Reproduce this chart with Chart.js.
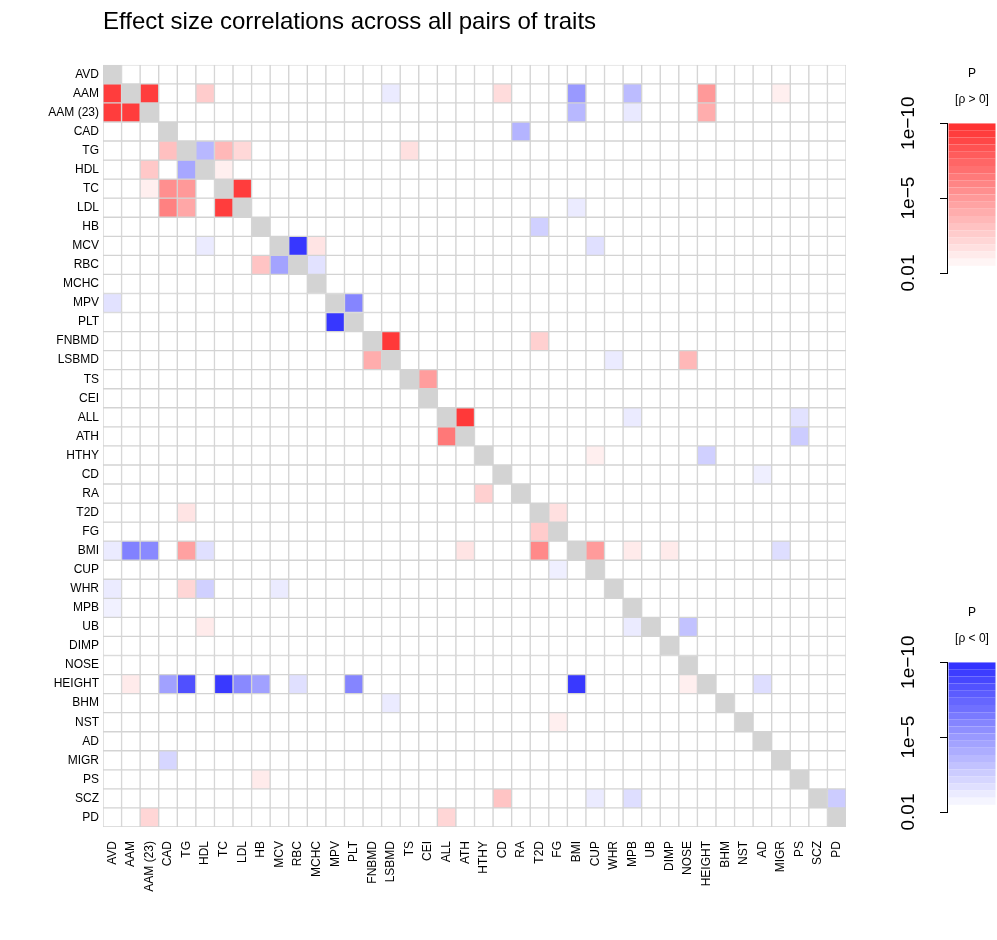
<!DOCTYPE html>
<html>
<head>
<meta charset="utf-8">
<title>Effect size correlations across all pairs of traits</title>
<script src="https://cdn.jsdelivr.net/npm/chart.js@4.4.1/dist/chart.umd.min.js"></script>
<style>
  html, body { margin: 0; padding: 0; background: #fff; overflow: hidden; }
  #wrap { position: relative; width: 997px; height: 940px; }
  #main { position: absolute; left: 0; top: 0; width: 997px; height: 940px; }
  .key { position: absolute; left: 860px; width: 137px; height: 240px; }
</style>
</head>
<body>
<div id="wrap">
  <canvas id="main" width="997" height="940"></canvas>
  <canvas id="key-pos" class="key" width="137" height="240" style="top:60px"></canvas>
  <canvas id="key-neg" class="key" width="137" height="240" style="top:599px"></canvas>
</div>
<script>
// Rasgos, en el mismo orden para filas (de arriba a abajo) y columnas (de izquierda a derecha).
const TRAITS = ['AVD', 'AAM', 'AAM (23)', 'CAD', 'TG', 'HDL', 'TC', 'LDL', 'HB', 'MCV', 'RBC', 'MCHC',
  'MPV', 'PLT', 'FNBMD', 'LSBMD', 'TS', 'CEI', 'ALL', 'ATH', 'HTHY', 'CD', 'RA', 'T2D', 'FG', 'BMI',
  'CUP', 'WHR', 'MPB', 'UB', 'DIMP', 'NOSE', 'HEIGHT', 'BHM', 'NST', 'AD', 'MIGR', 'PS', 'SCZ', 'PD'];

// Celdas con color: [fila, columna, nivel]. El nivel es la posición en la escala de P
// (0 = 0.01, 1 = 1e-10); positivo si rho > 0 (rojo), negativo si rho < 0 (azul).
const CELLS = [
  ['AAM', 'AVD', 0.95], ['AAM', 'AAM (23)', 0.95], ['AAM', 'HDL', 0.25], ['AAM', 'LSBMD', -0.1],
  ['AAM', 'CD', 0.17], ['AAM', 'BMI', -0.5], ['AAM', 'MPB', -0.33], ['AAM', 'HEIGHT', 0.5], ['AAM', 'MIGR', 0.08],
  ['AAM (23)', 'AVD', 0.95], ['AAM (23)', 'AAM', 0.95], ['AAM (23)', 'BMI', -0.35], ['AAM (23)', 'MPB', -0.11],
  ['AAM (23)', 'HEIGHT', 0.4],
  ['CAD', 'RA', -0.37],
  ['TG', 'CAD', 0.31], ['TG', 'HDL', -0.35], ['TG', 'TC', 0.35], ['TG', 'LDL', 0.19], ['TG', 'TS', 0.15],
  ['HDL', 'AAM (23)', 0.27], ['HDL', 'TG', -0.43], ['HDL', 'TC', 0.08],
  ['TC', 'AAM (23)', 0.08], ['TC', 'CAD', 0.55], ['TC', 'TG', 0.5], ['TC', 'LDL', 0.95],
  ['LDL', 'CAD', 0.62], ['LDL', 'TG', 0.43], ['LDL', 'TC', 0.95], ['LDL', 'BMI', -0.1],
  ['HB', 'T2D', -0.23],
  ['MCV', 'HDL', -0.1], ['MCV', 'RBC', -0.98], ['MCV', 'MCHC', 0.13], ['MCV', 'CUP', -0.15],
  ['RBC', 'HB', 0.29], ['RBC', 'MCV', -0.45], ['RBC', 'MCHC', -0.14],
  ['MPV', 'AVD', -0.14], ['MPV', 'PLT', -0.6],
  ['PLT', 'MPV', -0.98],
  ['FNBMD', 'LSBMD', 0.97], ['FNBMD', 'T2D', 0.23],
  ['LSBMD', 'FNBMD', 0.4], ['LSBMD', 'WHR', -0.1], ['LSBMD', 'NOSE', 0.35],
  ['TS', 'CEI', 0.48],
  ['ALL', 'ATH', 0.97], ['ALL', 'MPB', -0.1], ['ALL', 'PS', -0.14],
  ['ATH', 'ALL', 0.66], ['ATH', 'PS', -0.25],
  ['HTHY', 'CUP', 0.08], ['HTHY', 'HEIGHT', -0.23],
  ['CD', 'AD', -0.08],
  ['RA', 'HTHY', 0.23],
  ['T2D', 'TG', 0.13], ['T2D', 'FG', 0.15],
  ['FG', 'T2D', 0.25],
  ['BMI', 'AVD', -0.1], ['BMI', 'AAM', -0.62], ['BMI', 'AAM (23)', -0.58], ['BMI', 'TG', 0.46],
  ['BMI', 'HDL', -0.15], ['BMI', 'ATH', 0.13], ['BMI', 'T2D', 0.58], ['BMI', 'CUP', 0.49],
  ['BMI', 'MPB', 0.1], ['BMI', 'DIMP', 0.1], ['BMI', 'MIGR', -0.16],
  ['CUP', 'FG', -0.08],
  ['WHR', 'AVD', -0.1], ['WHR', 'TG', 0.2], ['WHR', 'HDL', -0.23], ['WHR', 'MCV', -0.1],
  ['MPB', 'AVD', -0.07],
  ['UB', 'HDL', 0.1], ['UB', 'MPB', -0.1], ['UB', 'NOSE', -0.3],
  ['HEIGHT', 'AAM', 0.1], ['HEIGHT', 'CAD', -0.46], ['HEIGHT', 'TG', -0.86], ['HEIGHT', 'TC', -0.97],
  ['HEIGHT', 'LDL', -0.58], ['HEIGHT', 'HB', -0.46], ['HEIGHT', 'RBC', -0.15], ['HEIGHT', 'PLT', -0.6],
  ['HEIGHT', 'BMI', -0.97], ['HEIGHT', 'NOSE', 0.08], ['HEIGHT', 'AD', -0.16],
  ['BHM', 'LSBMD', -0.1],
  ['NST', 'FG', 0.08],
  ['MIGR', 'CAD', -0.2],
  ['PS', 'HB', 0.1],
  ['SCZ', 'CD', 0.29], ['SCZ', 'CUP', -0.1], ['SCZ', 'MPB', -0.16], ['SCZ', 'PD', -0.25],
  ['PD', 'AAM (23)', 0.2], ['PD', 'ALL', 0.2]
];

// Escala de color: 20 bandas, marcas en 0.01, 1e-5 y 1e-10.
const KEY_BANDS = [1, 2, 3, 4, 5, 6, 7, 8, 9, 10, 11, 12, 13, 14, 15, 16, 17, 18, 19, 20];
const KEY_TICK_VALUES = [0, 10.5, 21];
const KEY_TICK_LABELS = ['0.01', '1e\u22125', '1e\u221210'];

const FONT = "'Liberation Sans', Arial, Helvetica, sans-serif";
const RED = [255, 51, 51];
const BLUE = [51, 51, 255];
const DIAG = '#d3d3d3';
const LINE = '#d3d3d3';

function mix(rgb, f) {
  return 'rgb(' + rgb.map(v => Math.round(255 + (v - 255) * f)).join(',') + ')';
}

function cellColor(level) {
  if (!level) return '#ffffff';
  return mix(level > 0 ? RED : BLUE, Math.abs(level));
}

const levels = TRAITS.map(() => TRAITS.map(() => 0));
CELLS.forEach(([row, col, v]) => { levels[TRAITS.indexOf(row)][TRAITS.indexOf(col)] = v; });

// Cada fila es un dataset; las barras apiladas de altura 1 forman la grilla.
const rowDatasets = TRAITS.map((name, r) => ({
  label: name,
  data: TRAITS.map(() => 1),
  backgroundColor: TRAITS.map((c, j) => (j === r ? DIAG : cellColor(levels[r][j]))),
  borderColor: LINE,
  borderWidth: 1,
  borderSkipped: false,
  barPercentage: 1,
  categoryPercentage: 1
}));

new Chart(document.getElementById('main'), {
  type: 'bar',
  data: { labels: TRAITS, datasets: rowDatasets },
  options: {
    responsive: false,
    animation: false,
    events: [],
    devicePixelRatio: 1,
    layout: { padding: { top: 0, left: 0, right: 151, bottom: 0 } },
    plugins: {
      legend: { display: false },
      tooltip: { enabled: false },
      title: {
        display: true,
        text: 'Effect size correlations across all pairs of traits',
        align: 'start',
        fullSize: false,
        color: '#000',
        font: { family: FONT, size: 24, weight: 'normal' },
        padding: { top: 8, bottom: 28 }
      }
    },
    scales: {
      x: {
        type: 'category',
        stacked: true,
        grid: { display: false, drawTicks: false },
        border: { display: false },
        ticks: {
          autoSkip: false, minRotation: 90, maxRotation: 90, padding: 14,
          color: '#000', font: { family: FONT, size: 12 }
        },
        afterFit: s => { s.height = 113; }
      },
      y: {
        type: 'linear',
        stacked: true,
        reverse: true,
        min: 0,
        max: TRAITS.length,
        grid: { display: false, drawTicks: false },
        border: { display: false },
        afterBuildTicks: s => { s.ticks = TRAITS.map((t, i) => ({ value: i + 0.5 })); },
        ticks: {
          autoSkip: false, padding: 4, color: '#000', font: { family: FONT, size: 12 },
          callback: (v, i) => TRAITS[i]
        },
        afterFit: s => { s.width = 103; }
      }
    }
  }
});

function makeKey(id, rgb, subtitle) {
  return new Chart(document.getElementById(id), {
    type: 'bar',
    data: {
      labels: [''],
      datasets: KEY_BANDS.map(k => ({
        data: [[k, k + 1]],
        backgroundColor: mix(rgb, k / KEY_BANDS.length),
        borderWidth: 0,
        grouped: false,
        barPercentage: 0.94,
        categoryPercentage: 1
      }))
    },
    options: {
      responsive: false,
      animation: false,
      events: [],
      devicePixelRatio: 1,
      layout: { padding: { top: 0, left: 0, right: 0, bottom: 27 } },
      plugins: {
        legend: { display: false },
        tooltip: { enabled: false },
        title: {
          display: true, text: 'P', fullSize: false, color: '#000',
          font: { family: FONT, size: 12, weight: 'normal' }, padding: { top: 6, bottom: 0 }
        },
        subtitle: {
          display: true, text: subtitle, fullSize: false, color: '#000',
          font: { family: FONT, size: 12, weight: 'normal' }, padding: { top: 12.4, bottom: 16 }
        }
      },
      scales: {
        x: { display: false },
        y: {
          type: 'linear',
          position: 'left',
          min: 0,
          max: 21,
          afterBuildTicks: s => { s.ticks = KEY_TICK_VALUES.map(v => ({ value: v })); },
          grid: { drawOnChartArea: false, drawTicks: true, tickLength: 7, color: '#000', lineWidth: 1 },
          border: { display: true, color: '#000', width: 1 },
          ticks: {
            minRotation: 90, maxRotation: 90, crossAlign: 'center', padding: 5,
            color: '#000', font: { family: FONT, size: 19 },
            callback: (v, i) => KEY_TICK_LABELS[i]
          },
          afterFit: s => { s.width = 87; }
        }
      }
    }
  });
}

makeKey('key-pos', RED, '[\u03c1 > 0]');
makeKey('key-neg', BLUE, '[\u03c1 < 0]');
</script>
</body>
</html>
